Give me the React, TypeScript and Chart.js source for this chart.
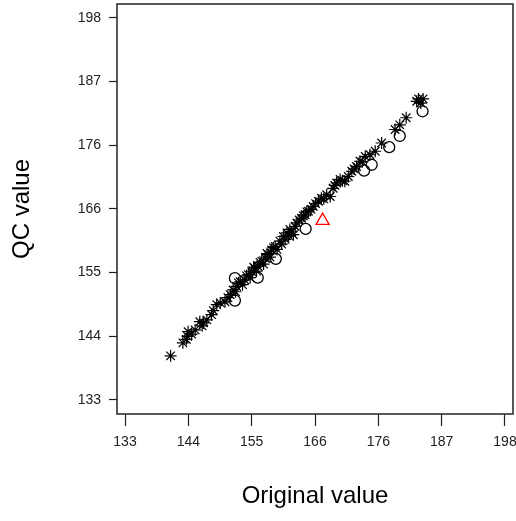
import React, { useEffect, useRef } from 'react';
import { Chart, registerables } from 'chart.js';

Chart.register(...registerables);

const xTitle = 'Original value';
const yTitle = 'QC value';

const tickValues = [133, 143.833, 154.667, 165.5, 176.333, 187.167, 198];
const tickLabels = ['133', '144', '155', '166', '176', '187', '198'];

const starX = [
  140.8, 142.9, 143.5, 143.7, 143.8, 144.4, 145.0, 145.8, 146.4, 146.2,
  147.0, 147.8, 148.1, 148.7, 149.3, 150.1, 150.6, 151.0, 151.5, 151.9,
  152.1, 152.4, 152.7, 153.1, 153.5, 153.8, 154.1, 154.4, 154.7, 155.0,
  155.2, 155.5, 155.8, 156.1, 156.4, 156.7, 157.0, 157.3, 157.5, 157.8,
  158.1, 158.4, 158.7, 159.0, 159.5, 159.8, 160.1, 160.4, 160.7, 161.0,
  161.2, 161.5, 161.8, 162.1, 162.4, 162.8, 163.2, 163.5, 163.8, 164.1,
  164.4, 164.8, 165.2, 165.6, 166.1, 166.6, 167.0, 167.5, 168.1, 168.6,
  168.9, 169.2, 169.8, 170.2, 170.6, 171.2, 171.8, 172.2, 172.6, 173.2,
  173.6, 174.1, 174.9, 175.8, 176.9, 179.2, 180.0, 181.1, 182.9, 183.2,
  184.0, 183.6,
];
const starY = [
  140.5, 142.7, 143.3, 143.8, 144.6, 144.2, 144.9, 146.3, 146.1, 145.6,
  146.6, 147.5, 148.2, 149.2, 149.5, 149.7, 150.4, 150.9, 151.7, 151.4,
  152.3, 152.9, 153.1, 152.6, 153.4, 154.1, 154.3, 153.8, 154.8, 155.6,
  155.4, 154.9, 155.7, 156.4, 156.6, 156.1, 157.1, 157.9, 157.7, 157.3,
  158.5, 158.9, 159.1, 158.6, 160.0, 159.5, 160.8, 160.3, 161.4, 160.9,
  162.0, 161.6, 161.1, 162.5, 163.1, 163.6, 163.9, 164.3, 164.5, 165.0,
  165.1, 165.4, 165.9, 166.4, 166.8, 167.3, 167.2, 167.9, 167.6, 169.0,
  169.5, 169.9, 170.5, 170.3, 170.2, 171.0, 171.9, 172.3, 172.7, 173.6,
  173.5, 174.4, 174.7, 175.3, 176.7, 179.0, 179.8, 181.0, 183.8, 184.2,
  184.2, 183.5,
];

const circleX = [151.8, 151.8, 155.7, 158.8, 163.9, 173.9, 175.2, 178.2, 180.0, 183.9];
const circleY = [153.7, 149.9, 153.8, 157.0, 162.1, 172.0, 173.0, 176.0, 177.9, 182.1];

const triangleX = [166.8];
const triangleY = [163.5];

const FONT = "'Liberation Sans', Arial, sans-serif";

const framePlugin = {
  id: 'frameBox',
  beforeDatasetsDraw(chart: any) {
    const { ctx, chartArea: a } = chart;
    ctx.save();
    ctx.strokeStyle = '#222';
    ctx.lineWidth = 1.5;
    ctx.strokeRect(a.left, a.top, a.right - a.left, a.bottom - a.top);
    ctx.restore();
  },
};

export default function App() {
  const ref = useRef<HTMLCanvasElement>(null);

  useEffect(() => {
    if (!ref.current) return;
    const toPts = (xs: number[], ys: number[]) => xs.map((x, i) => ({ x, y: ys[i] }));
    const chart = new Chart(ref.current, {
      type: 'scatter',
      data: {
        datasets: [
          {
            data: toPts(starX, starY),
            pointStyle: 'star',
            pointRadius: 6,
            pointBorderWidth: 1.2,
            pointBorderColor: '#000',
            pointBackgroundColor: 'rgba(0,0,0,0)',
            showLine: false,
          },
          {
            data: toPts(circleX, circleY),
            pointStyle: 'circle',
            pointRadius: 5.5,
            pointBorderWidth: 1.3,
            pointBorderColor: '#000',
            pointBackgroundColor: 'rgba(0,0,0,0)',
            showLine: false,
          },
          {
            data: toPts(triangleX, triangleY),
            pointStyle: 'triangle',
            pointRadius: 7.5,
            pointBorderWidth: 1.3,
            pointBorderColor: '#ff0000',
            pointBackgroundColor: 'rgba(0,0,0,0)',
            showLine: false,
          },
        ],
      },
      options: {
        responsive: false,
        animation: false,
        devicePixelRatio: 1,
        layout: { autoPadding: false, padding: { top: 4, right: 3, left: 0, bottom: 0 } },
        plugins: { legend: { display: false }, tooltip: { enabled: false } },
        scales: {
          x: {
            type: 'linear',
            min: 131.63,
            max: 199.37,
            afterBuildTicks: (s: any) => {
              s.ticks = tickValues.map((v) => ({ value: v }));
            },
            afterFit: (s: any) => {
              s.height = 107;
              s.paddingLeft = 0;
              s.paddingRight = 0;
            },
            grid: {
              display: true,
              drawOnChartArea: false,
              drawTicks: true,
              tickLength: 12,
              tickColor: '#222',
              tickWidth: 1.2,
            },
            border: { display: false },
            ticks: {
              autoSkip: false,
              maxRotation: 0,
              minRotation: 0,
              padding: 8,
              color: '#222',
              font: { family: FONT, size: 14 },
              callback: (_v: any, i: number) => tickLabels[i],
            },
            title: {
              display: true,
              text: xTitle,
              color: '#000',
              font: { family: FONT, size: 24 },
              padding: { top: 0, bottom: 10 },
            },
          },
          y: {
            type: 'linear',
            min: 130.6,
            max: 200.35,
            afterBuildTicks: (s: any) => {
              s.ticks = tickValues.map((v) => ({ value: v }));
            },
            afterFit: (s: any) => {
              s.width = 117;
              s.paddingTop = 0;
              s.paddingBottom = 0;
            },
            grid: {
              display: true,
              drawOnChartArea: false,
              drawTicks: true,
              tickLength: 8,
              tickColor: '#222',
              tickWidth: 1.2,
            },
            border: { display: false },
            ticks: {
              autoSkip: false,
              padding: 8,
              color: '#222',
              font: { family: FONT, size: 14 },
              callback: (_v: any, i: number) => tickLabels[i],
            },
            title: {
              display: true,
              text: yTitle,
              color: '#000',
              font: { family: FONT, size: 24 },
              padding: { top: 8, bottom: 0 },
            },
          },
        },
      },
      plugins: [framePlugin],
    } as any);
    return () => chart.destroy();
  }, []);

  return (
    <div style={{ position: 'fixed', left: 0, top: 0, width: 516, height: 521, background: '#fff' }}>
      <canvas ref={ref} width={516} height={521} />
    </div>
  );
}
